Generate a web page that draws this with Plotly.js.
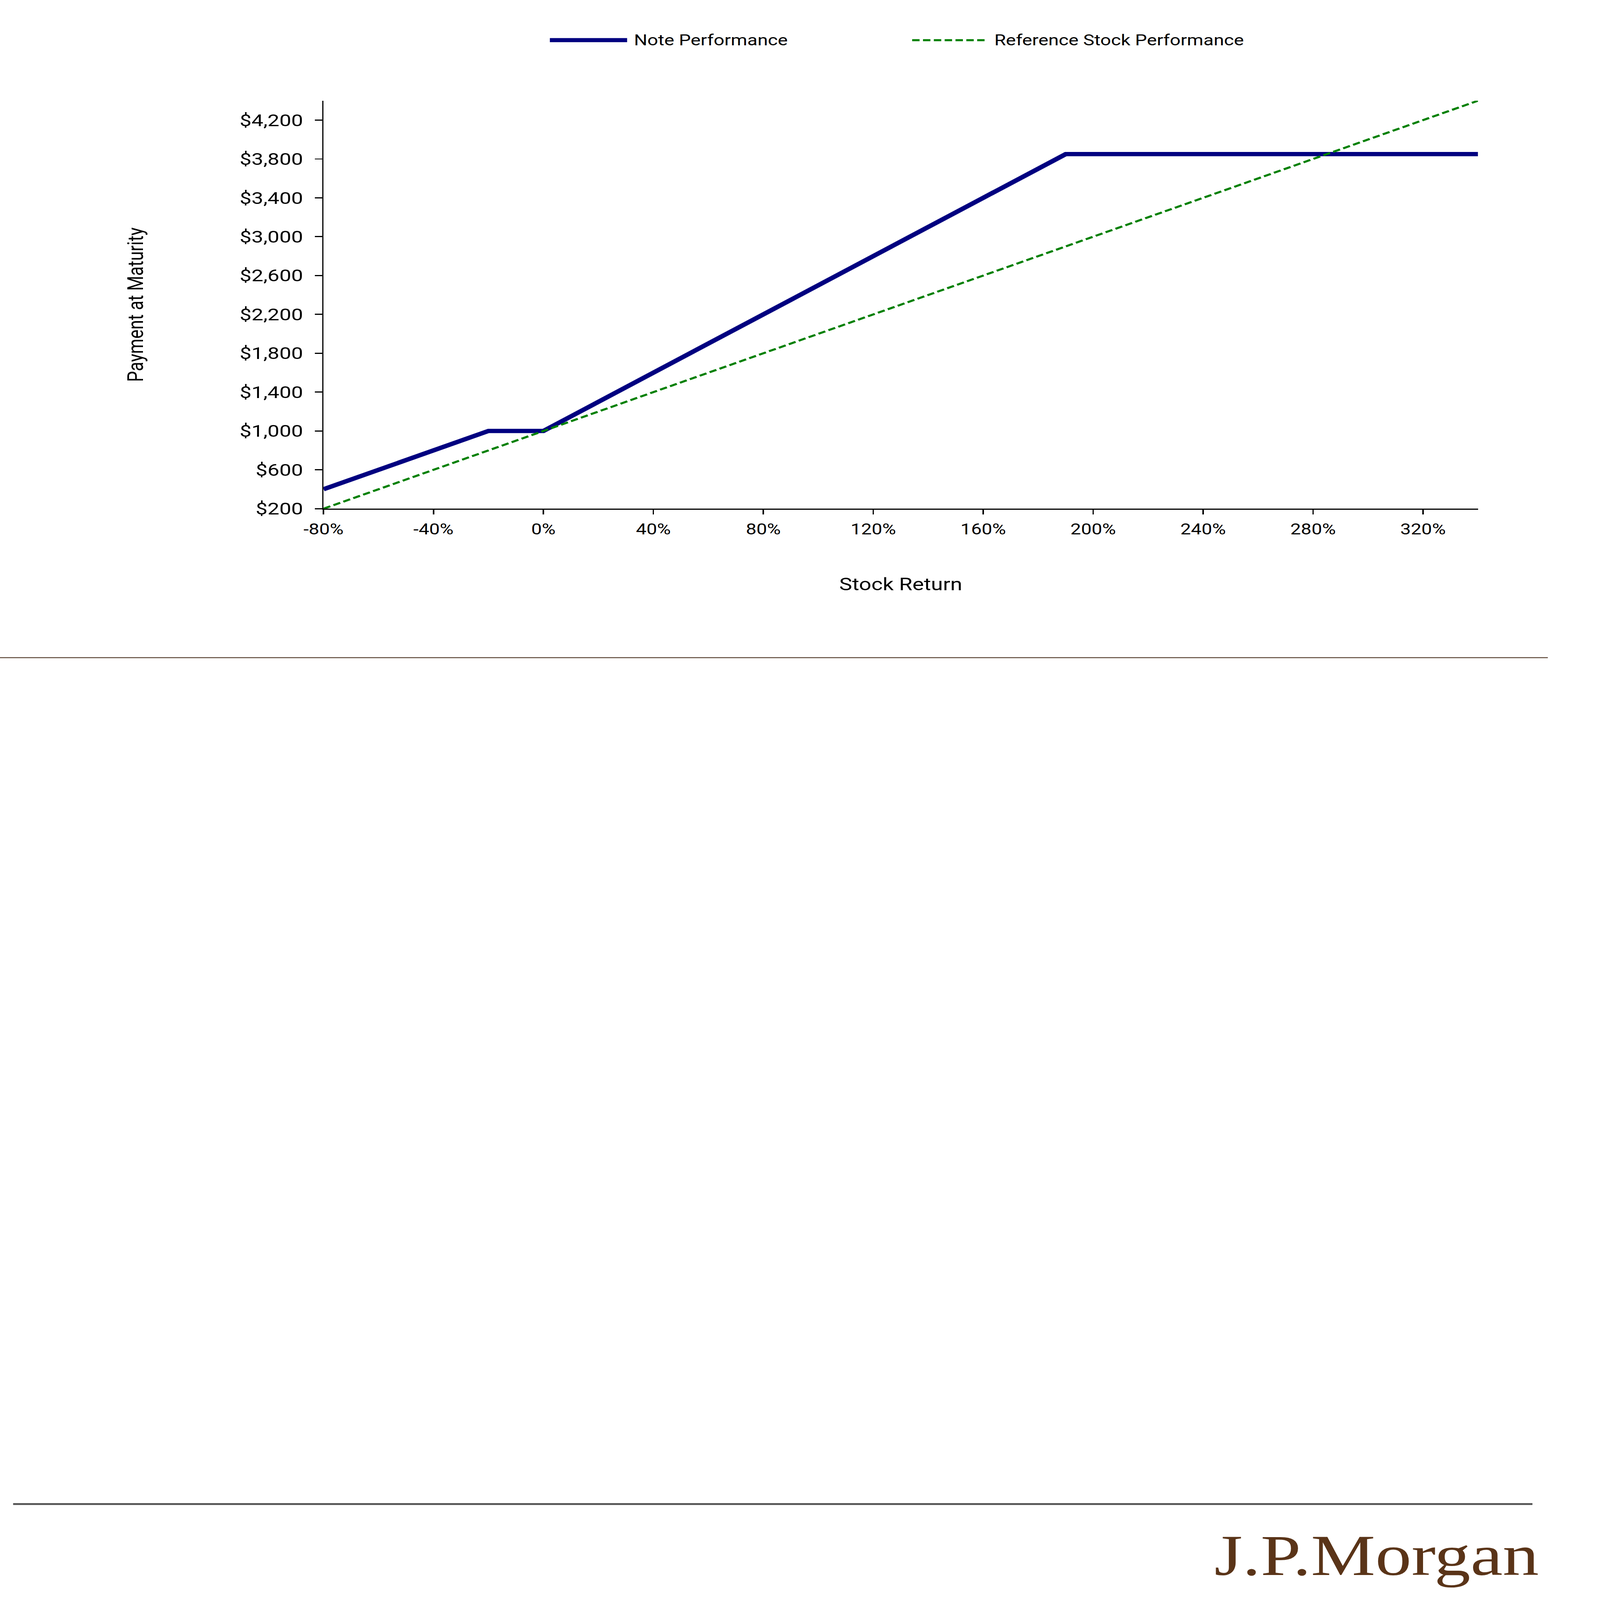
<!DOCTYPE html>
<html>
<head>
<meta charset="utf-8">
<script src="https://cdn.plot.ly/plotly-3.0.1.min.js"></script>
<style>
  html, body { margin: 0; padding: 0; background: #ffffff; overflow: hidden; }
  #wrap { position: absolute; left: 0; top: 0; overflow: hidden; }
  #chart { width: 5613px; height: 7055px; transform-origin: 0 0; }
</style>
</head>
<body>
<div id="wrap"><div id="chart"></div></div>
<script>
// ---- Data ----
var stockReturn = [-80, -70, -60, -50, -40, -30, -20, -10, 0, 10, 20, 30, 40, 50, 60, 70, 80, 90, 100,
  110, 120, 130, 140, 150, 160, 170, 180, 190, 200, 210, 220, 230, 240, 250, 260, 270, 280, 290, 300,
  310, 320, 330, 340];
var notePayment = [400, 500, 600, 700, 800, 900, 1000, 1000, 1000, 1150, 1300, 1450, 1600, 1750, 1900,
  2050, 2200, 2350, 2500, 2650, 2800, 2950, 3100, 3250, 3400, 3550, 3700, 3850, 3850, 3850, 3850, 3850,
  3850, 3850, 3850, 3850, 3850, 3850, 3850, 3850, 3850, 3850, 3850];
var stockPayment = [200, 300, 400, 500, 600, 700, 800, 900, 1000, 1100, 1200, 1300, 1400, 1500, 1600,
  1700, 1800, 1900, 2000, 2100, 2200, 2300, 2400, 2500, 2600, 2700, 2800, 2900, 3000, 3100, 3200, 3300,
  3400, 3500, 3600, 3700, 3800, 3900, 4000, 4100, 4200, 4300, 4400];
var xTickValues = [-80, -40, 0, 40, 80, 120, 160, 200, 240, 280, 320];
var xTickLabels = ['-80%', '-40%', '0%', '40%', '80%', '120%', '160%', '200%', '240%', '280%', '320%'];
var seriesNames = ['Note Performance', 'Reference Stock Performance'];
var xTitle = 'Stock Return';
var yTitle = 'Payment at Maturity';
var logoText = 'J.P.Morgan';

// ---- Styles ----
var NAVY = '#000080', GREEN = '#008000';
var FONT = 'Roboto, "Noto Sans", sans-serif';
var W = 5613, H = 7055;
var L = 1135, R = 5185, T = 444, B = 2243;
function px(x) { return (x - L) / (R - L); }
function py(y) { return (B - y) / (B - T); }

// fit the 5613x7055 design into the viewport the page really gets
var iw = window.innerWidth || W, ih = window.innerHeight || H;
var sx = iw / W, sy = ih / H;
var wrap = document.getElementById('wrap');
wrap.style.width = iw + 'px'; wrap.style.height = ih + 'px';
document.getElementById('chart').style.transform = 'scale(' + sx + ',' + sy + ')';

var traces = [
  { x: stockReturn, y: notePayment, type: 'scatter', mode: 'lines', name: seriesNames[0],
    line: { color: NAVY, width: 19 }, hoverinfo: 'skip' },
  { x: stockReturn, y: stockPayment, type: 'scatter', mode: 'lines', name: seriesNames[1],
    line: { color: GREEN, width: 9, dash: '26px,12px' }, hoverinfo: 'skip' }
];

var layout = {
  width: W, height: H,
  paper_bgcolor: '#ffffff', plot_bgcolor: '#ffffff',
  showlegend: false,
  margin: { l: L, r: W - R, t: T, b: H - B, pad: 0 },
  font: { family: FONT, color: '#000000' },
  xaxis: {
    range: [-80, 340], tickmode: 'array', tickvals: xTickValues, ticktext: xTickLabels,
    showgrid: false, zeroline: false, showline: true, linecolor: '#000', linewidth: 5,
    ticks: 'outside', ticklen: 21, tickwidth: 5, tickcolor: '#000',
    tickfont: { family: FONT, size: 66, color: '#000' }, ticklabelstandoff: 8,
    title: { text: xTitle, font: { family: FONT, size: 76, color: '#000' }, standoff: 180 },
    automargin: false, fixedrange: true
  },
  yaxis: {
    range: [200, 4400], tick0: 200, dtick: 400, tickprefix: '$', tickformat: ',d',
    showgrid: false, zeroline: false, showline: true, linecolor: '#000', linewidth: 5,
    ticks: 'outside', ticklen: 25, tickwidth: 5, tickcolor: '#000',
    tickfont: { family: FONT, size: 74, color: '#000' }, ticklabelstandoff: 27,
    title: { text: yTitle, font: { family: FONT, size: 76, color: '#000' }, standoff: 315 },
    automargin: false, fixedrange: true
  },
  shapes: [
    { type: 'line', xref: 'paper', yref: 'paper', x0: px(1929), x1: px(2200), y0: py(177), y1: py(177),
      line: { color: NAVY, width: 18 } },
    { type: 'line', xref: 'paper', yref: 'paper', x0: px(3200), x1: px(3459), y0: py(177), y1: py(177),
      line: { color: GREEN, width: 9, dash: '26px,12px' } },
    { type: 'line', xref: 'paper', yref: 'paper', x0: px(0), x1: px(5430), y0: py(2900), y1: py(2900),
      line: { color: '#503828', width: 4 } },
    { type: 'line', xref: 'paper', yref: 'paper', x0: px(46), x1: px(5376), y0: py(6632), y1: py(6632),
      line: { color: '#555555', width: 8 } }
  ],
  annotations: [
    { xref: 'paper', yref: 'paper', x: px(2222), y: py(177), xanchor: 'left', yanchor: 'middle',
      text: seriesNames[0], showarrow: false, font: { family: FONT, size: 66, color: '#000' } },
    { xref: 'paper', yref: 'paper', x: px(3486), y: py(177), xanchor: 'left', yanchor: 'middle',
      text: seriesNames[1], showarrow: false, font: { family: FONT, size: 66, color: '#000' } },
    { xref: 'paper', yref: 'paper', x: px(4258), y: py(6858), xanchor: 'left', yanchor: 'middle',
      text: logoText, showarrow: false,
      font: { family: '"Liberation Serif", "DejaVu Serif", serif', size: 254, color: '#5a3418' } }
  ]
};

Plotly.newPlot('chart', traces, layout, { staticPlot: true, displayModeBar: false });
</script>
</body>
</html>
